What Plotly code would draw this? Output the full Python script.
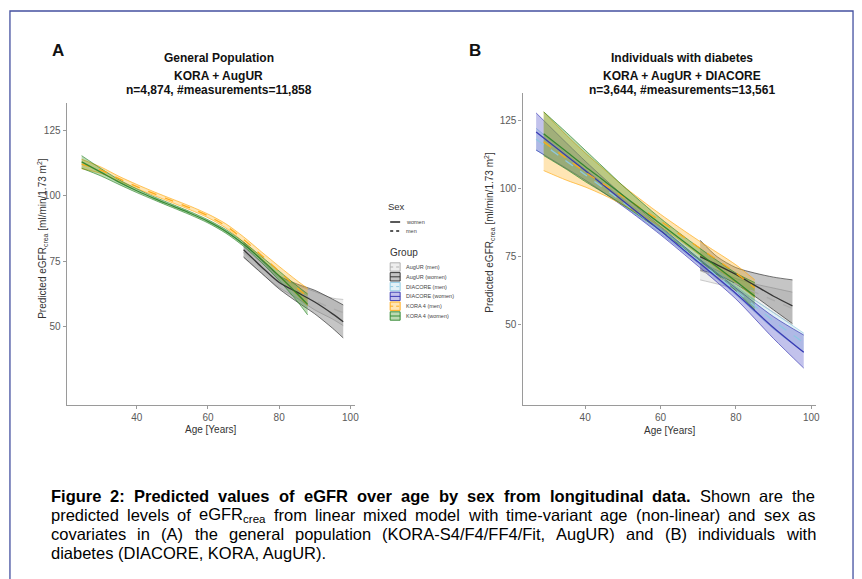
import plotly.graph_objects as go

W, H = 862, 579


def px(x):
    return x / W


def py(y):
    return 1 - y / H


# ---------------- Panel A: general population ----------------
age_kora_a = [24.5, 30, 35, 40, 45, 50, 55, 60, 65, 70, 75, 80, 85, 88]
kora_w_a_fit = [113.0, 109.0, 105.3, 102.0, 99.0, 96.2, 93.4, 90.3, 86.5, 81.6, 75.8, 69.5, 62.8, 58.6]
kora_w_a_lo = [110.6, 107.6, 104.4, 101.3, 98.4, 95.6, 92.8, 89.7, 85.8, 80.8, 74.7, 67.7, 59.9, 54.6]
kora_w_a_hi = [115.4, 110.4, 106.2, 102.7, 99.6, 96.8, 94.0, 90.9, 87.2, 82.4, 76.9, 71.3, 65.7, 62.6]
kora_m_a_fit = [112.2, 109.8, 106.6, 103.6, 100.8, 98.1, 95.4, 92.4, 88.6, 83.4, 77.4, 71.2, 65.0, 61.4]
kora_m_a_lo = [110.4, 108.6, 105.7, 102.8, 100.1, 97.4, 94.7, 91.7, 87.8, 82.4, 76.1, 69.3, 62.3, 58.1]
kora_m_a_hi = [114.0, 111.0, 107.5, 104.4, 101.5, 98.8, 96.1, 93.1, 89.4, 84.4, 78.7, 73.1, 67.7, 64.7]

age_aug_a = [70, 75, 80, 85, 90, 95, 98]
aug_w_a_fit = [79.5, 73.0, 67.0, 63.3, 59.5, 55.0, 52.0]
aug_w_a_lo = [76.7, 70.6, 64.5, 59.6, 55.0, 49.5, 45.8]
aug_w_a_hi = [82.4, 75.5, 69.5, 66.4, 64.0, 60.6, 58.4]
aug_m_a_fit = [78.5, 72.5, 67.0, 63.5, 60.0, 57.0, 55.5]
aug_m_a_lo = [76.5, 70.5, 65.0, 61.0, 56.5, 53.0, 50.5]
aug_m_a_hi = [80.5, 74.5, 69.0, 66.0, 63.5, 61.0, 60.5]

# ---------------- Panel B: individuals with diabetes ----------------
age_dia_b = [27, 40, 50, 60, 70, 80, 90, 98]
dia_w_b_fit = [120.6, 106.5, 95.5, 84.5, 73.0, 61.5, 49.0, 40.0]
dia_w_b_lo = [114.0, 103.0, 93.5, 83.0, 71.5, 59.5, 45.0, 34.2]
dia_w_b_hi = [127.6, 110.0, 97.5, 86.0, 74.5, 63.5, 53.0, 46.3]
dia_m_b_fit = [118.0, 105.0, 95.0, 84.5, 73.5, 62.5, 51.5, 43.5]
dia_m_b_lo = [114.0, 103.0, 93.8, 83.5, 72.5, 61.0, 48.5, 40.0]
dia_m_b_hi = [122.0, 107.0, 96.2, 85.5, 74.5, 64.0, 54.5, 47.0]

age_kora_b = [29, 35, 40, 45, 50, 60, 70, 80, 85]
kora_m_b_fit = [117.0, 111.0, 106.0, 101.5, 97.0, 88.0, 78.5, 69.0, 63.5]
kora_m_b_lo = [106.5, 103.0, 100.5, 97.5, 94.0, 86.0, 76.0, 65.5, 60.0]
kora_m_b_hi = [128.0, 119.5, 113.0, 107.0, 101.0, 90.5, 81.0, 72.0, 66.5]
kora_w_b_fit = [120.0, 113.5, 108.0, 102.8, 97.5, 87.0, 76.5, 66.0, 60.5]
kora_w_b_lo = [112.0, 107.0, 102.5, 98.3, 94.0, 84.5, 74.0, 62.5, 55.5]
kora_w_b_hi = [128.0, 120.5, 114.0, 107.5, 101.0, 89.0, 78.5, 69.0, 65.5]

age_aug_b = [70.5, 75, 80, 85, 90, 95]
aug_w_b_fit = [75.0, 72.0, 68.5, 64.5, 60.5, 57.0]
aug_w_b_lo = [70.0, 68.5, 65.0, 60.5, 55.5, 50.5]
aug_w_b_hi = [81.0, 75.0, 71.0, 69.0, 67.5, 66.5]
aug_m_b_fit = [70.0, 67.5, 65.0, 62.0, 59.0, 56.0]
aug_m_b_lo = [66.5, 65.0, 63.0, 59.0, 54.5, 50.0]
aug_m_b_hi = [73.0, 70.0, 67.0, 65.0, 63.5, 62.0]

x_ticks = [40, 60, 80, 100]
y_ticks = [50, 75, 100, 125]

group_names = ["AugUR (men)", "AugUR (women)", "DIACORE (men)",
               "DIACORE (women)", "KORA 4 (men)", "KORA 4 (women)"]
group_line = {
    "AugUR (men)": "rgba(170,170,170,0.9)",
    "AugUR (women)": "rgba(40,40,40,0.9)",
    "DIACORE (men)": "rgba(140,200,225,0.95)",
    "DIACORE (women)": "rgba(45,45,175,0.9)",
    "KORA 4 (men)": "rgba(255,170,20,0.95)",
    "KORA 4 (women)": "rgba(40,130,40,0.9)",
}
group_fill = {
    "AugUR (men)": "rgba(205,205,205,0.35)",
    "AugUR (women)": "rgba(90,90,90,0.35)",
    "DIACORE (men)": "rgba(173,216,230,0.35)",
    "DIACORE (women)": "rgba(80,80,200,0.35)",
    "KORA 4 (men)": "rgba(255,180,40,0.35)",
    "KORA 4 (women)": "rgba(60,150,40,0.35)",
}

fig = go.Figure()


def band(x, lo, hi, fit, group, dashed, xa, ya):
    col = group_line[group]
    fig.add_trace(go.Scatter(x=x, y=lo, mode="lines",
                             line=dict(color=col, width=0.7, shape="spline", smoothing=0.8),
                             xaxis=xa, yaxis=ya, showlegend=False, hoverinfo="skip"))
    fig.add_trace(go.Scatter(x=x, y=hi, mode="lines",
                             line=dict(color=col, width=0.7, shape="spline", smoothing=0.8),
                             fill="tonexty", fillcolor=group_fill[group],
                             xaxis=xa, yaxis=ya, showlegend=False, hoverinfo="skip"))
    return (x, fit, col, dashed, xa, ya)


fits = []
# Panel A
fits.append(band(age_aug_a, aug_m_a_lo, aug_m_a_hi, aug_m_a_fit, "AugUR (men)", True, "x", "y"))
fits.append(band(age_aug_a, aug_w_a_lo, aug_w_a_hi, aug_w_a_fit, "AugUR (women)", False, "x", "y"))
fits.append(band(age_kora_a, kora_m_a_lo, kora_m_a_hi, kora_m_a_fit, "KORA 4 (men)", True, "x", "y"))
fits.append(band(age_kora_a, kora_w_a_lo, kora_w_a_hi, kora_w_a_fit, "KORA 4 (women)", False, "x", "y"))
# Panel B
fits.append(band(age_aug_b, aug_m_b_lo, aug_m_b_hi, aug_m_b_fit, "AugUR (men)", True, "x2", "y2"))
fits.append(band(age_aug_b, aug_w_b_lo, aug_w_b_hi, aug_w_b_fit, "AugUR (women)", False, "x2", "y2"))
fits.append(band(age_dia_b, dia_m_b_lo, dia_m_b_hi, dia_m_b_fit, "DIACORE (men)", True, "x2", "y2"))
fits.append(band(age_dia_b, dia_w_b_lo, dia_w_b_hi, dia_w_b_fit, "DIACORE (women)", False, "x2", "y2"))
fits.append(band(age_kora_b, kora_m_b_lo, kora_m_b_hi, kora_m_b_fit, "KORA 4 (men)", True, "x2", "y2"))
fits.append(band(age_kora_b, kora_w_b_lo, kora_w_b_hi, kora_w_b_fit, "KORA 4 (women)", False, "x2", "y2"))

for x, fit, col, dashed, xa, ya in fits:
    fig.add_trace(go.Scatter(x=x, y=fit, mode="lines",
                             line=dict(color=col, width=1.3, shape="spline", smoothing=0.8,
                                       dash="dash" if dashed else "solid"),
                             xaxis=xa, yaxis=ya, showlegend=False, hoverinfo="skip"))

axis_common = dict(showline=True, linecolor="#9a9a9a", linewidth=1.3, ticks="outside",
                   ticklen=3, tickcolor="#9a9a9a", tickwidth=1, showgrid=False, zeroline=False,
                   tickfont=dict(family="Liberation Sans, Arial, sans-serif", size=10, color="#5a5a5a"),
                   fixedrange=True)

fig.update_layout(
    width=W, height=H, margin=dict(l=0, r=0, t=0, b=0),
    paper_bgcolor="white", plot_bgcolor="white", showlegend=False,
    xaxis=dict(domain=[px(67), px(357)], range=[20.3, 101.4], tickvals=x_ticks,
               anchor="y", **axis_common),
    yaxis=dict(domain=[py(405), py(103)], range=[20.2, 135.5], tickvals=y_ticks,
               anchor="x", **axis_common),
    xaxis2=dict(domain=[px(525), px(820)], range=[23.4, 101.3], tickvals=x_ticks,
                anchor="y2", **axis_common),
    yaxis2=dict(domain=[py(405), py(93)], range=[20.7, 134.9], tickvals=y_ticks,
                anchor="x2", **axis_common),
)

FONT = "Liberation Sans, Arial, sans-serif"
ann = []


def text(x, y, s, size, bold=False, color="#111", xanchor="center", angle=0):
    ann.append(dict(x=px(x), y=py(y), xref="paper", yref="paper", text=s, showarrow=False,
                    xanchor=xanchor, yanchor="middle", textangle=angle, borderpad=0,
                    font=dict(family=FONT, size=size, color=color)))


# panel letters and titles
text(58, 51, "<b>A</b>", 17)
text(477, 51, "<b>B</b>", 17)
text(220, 58, "<b>General Population</b>", 12)
text(220, 76, "<b>KORA + AugUR</b>", 12)
text(220, 90, "<b>n=4,874, #measurements=11,858</b>", 12)
text(685, 58, "<b>Individuals with diabetes</b>", 12)
text(685, 76, "<b>KORA + AugUR + DIACORE</b>", 12)
text(685, 90, "<b>n=3,644, #measurements=13,561</b>", 12)

ytitle = "Predicted eGFR<sub>crea</sub> [ml/min/1.73 m<sup>2</sup>]"
text(42, 238, ytitle, 10, color="#333", angle=-90)
text(492, 232, ytitle, 10, color="#333", angle=-90)
text(212, 429, "Age [Years]", 10, color="#333")
text(673, 430, "Age [Years]", 10, color="#333")

# legend
shapes = []
text(389, 207, "Sex", 9.5, color="#333", xanchor="left")
shapes.append(dict(type="line", xref="paper", yref="paper", x0=px(392), x1=px(402),
                   y0=py(222), y1=py(222), line=dict(color="#222", width=1.5)))
shapes.append(dict(type="line", xref="paper", yref="paper", x0=px(392), x1=px(402),
                   y0=py(231), y1=py(231), line=dict(color="#222", width=1.5, dash="dot")))
text(407, 222, "women", 5.5, color="#444", xanchor="left")
text(407, 231, "men", 5.5, color="#444", xanchor="left")
text(391, 252, "Group", 10, color="#333", xanchor="left")
for i, g in enumerate(group_names):
    yc = 267 + i * 9.8
    shapes.append(dict(type="rect", xref="paper", yref="paper", x0=px(392), x1=px(402),
                       y0=py(yc - 4.2), y1=py(yc + 4.2), fillcolor=group_fill[g],
                       line=dict(color=group_line[g], width=1)))
    is_men = "(men)" in g
    shapes.append(dict(type="line", xref="paper", yref="paper", x0=px(392), x1=px(402),
                       y0=py(yc), y1=py(yc),
                       line=dict(color=group_line[g], width=1, dash="dot" if is_men else "solid")))
    text(407, yc, g, 5.5, color="#444", xanchor="left")

# ---------------- figure caption (justified) ----------------
# approximate Arial / Liberation Sans advance widths (1/1000 em)
REG_W = {}
for chars, w in [("ijl", 222), (" ,./:;I!ft", 278), ("()-r", 333), ("cksvxyzJ", 500),
                 ("0123456789abdeghnopquL#", 556), ("FTZ", 611), ("ABEKPSVXY", 667),
                 ("CDHNRUw", 722), ("GOQ", 778), ("mM", 833), ("W", 944)]:
    for c in chars:
        REG_W[c] = w
BOLD_W = {}
for chars, w in [(" ,.Iijl/", 278), (":;()-tf", 333), ("r", 389), ("z", 500),
                 ("0123456789acesvxykJ", 556), ("bdghnopquFTZL", 611), ("PESVXY", 667),
                 ("ABCDHKNRU", 722), ("GOQw", 778), ("M", 833), ("m", 889), ("W", 944)]:
    for c in chars:
        BOLD_W[c] = w


def word_width(word, bold, size):
    table = BOLD_W if bold else REG_W
    plain = word.replace("<sub>", "\x01").replace("</sub>", "\x02")
    total, scale = 0.0, 1.0
    for c in plain:
        if c == "\x01":
            scale = 0.7
            continue
        if c == "\x02":
            scale = 1.0
            continue
        total += table.get(c, 556) * scale
    return total * size / 1000.0


cap_size = 16.5
cap_left, cap_right = 50, 818
caption_lines = [
    [("Figure 2: Predicted values of eGFR over age by sex from longitudinal data.", True),
     ("Shown are the", False)],
    [("predicted levels of eGFR<sub>crea</sub> from linear mixed model with time-variant age "
      "(non-linear) and sex as", False)],
    [("covariates in (A) the general population (KORA-S4/F4/FF4/Fit, AugUR) and (B) "
      "individuals with", False)],
]
caption_last = "diabetes (DIACORE, KORA, AugUR)."
cap_y = [496, 515, 534, 553]

for parts, yy in zip(caption_lines, cap_y):
    words = []
    for chunk, bold in parts:
        words += [(w, bold) for w in chunk.split(" ")]
    widths = [word_width(w, b, cap_size) for w, b in words]
    gap = (cap_right - cap_left - sum(widths)) / (len(words) - 1)
    xx = cap_left
    for (w, b), ww in zip(words, widths):
        text(xx, yy, f"<b>{w}</b>" if b else w, cap_size, color="#000", xanchor="left")
        xx += ww + gap
text(cap_left, cap_y[3], caption_last, cap_size, color="#000", xanchor="left")

# outer frame
shapes.append(dict(type="rect", xref="paper", yref="paper", x0=px(10), x1=px(857),
                   y0=py(595), y1=py(11), line=dict(color="#4450a0", width=1.3)))

fig.update_layout(annotations=ann, shapes=shapes)
fig.write_html("out.html")
